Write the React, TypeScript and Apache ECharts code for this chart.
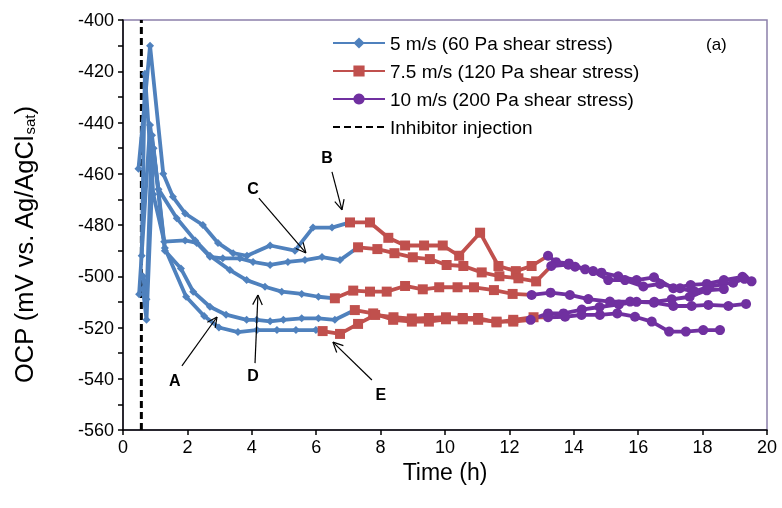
import { useEffect, useRef } from 'react';
import * as echarts from 'echarts';

const FONT = "'Liberation Sans', Arial, Helvetica, sans-serif";

type Pt = [number, number];

const seriesNames = [
  '5 m/s (60 Pa shear stress)',
  '7.5 m/s (120 Pa shear stress)',
  '10 m/s (200 Pa shear stress)',
];
const injectionName = 'Inhibitor injection';
const injectionTime = 0.57;

const xTicks = { min: 0, max: 20, interval: 2 };
const yTicks = { min: -560, max: -400, interval: 20 };

// Experiment 1 (arrow B)
const blue1: Pt[] = [[0.48, -458], [0.84, -410], [1.25, -460], [1.55, -469], [1.93, -475.5], [2.48, -480], [2.95, -487], [3.42, -491], [3.85, -492], [4.57, -488], [5.34, -490], [5.9, -481], [6.49, -481]];
const red1: Pt[] = [[7.05, -479], [7.67, -479], [8.24, -485], [8.76, -488], [9.35, -488], [9.93, -488], [10.44, -492], [11.09, -483], [11.66, -496], [12.2, -498], [12.69, -496]];
const purple1: Pt[] = [[13.2, -492], [13.45, -494.5], [13.85, -495], [14.35, -497.3], [14.86, -498.6], [15.38, -500], [15.95, -501.5], [16.49, -500.4], [17.09, -504.7], [17.63, -503.4], [18.13, -503], [18.66, -501.5], [19.24, -500.2], [19.52, -502]];

// Experiment 2 (arrow C)
const blue2: Pt[] = [[0.58, -492], [0.68, -421], [0.94, -468], [1.28, -486.5], [1.93, -486], [2.29, -487], [2.7, -492.4], [3.1, -493], [3.63, -493], [4.04, -494.4], [4.57, -495.6], [5.12, -494.4], [5.65, -493.7], [6.18, -492.5], [6.74, -493.7]];
const red2: Pt[] = [[7.3, -488.7], [7.9, -489.4], [8.43, -491], [9.0, -492.6], [9.53, -493.3], [10.05, -495.6], [10.57, -496], [11.14, -498.5], [11.69, -500], [12.28, -500.8], [12.83, -502]];
const purple2: Pt[] = [[13.3, -496], [13.83, -495.5], [14.04, -496.3], [14.6, -498], [15.07, -501.5], [15.59, -501.5], [16.16, -504], [16.68, -503], [17.3, -504.7], [17.75, -506], [18.2, -504], [18.95, -502.5], [19.3, -501]];

// Experiment 3 (arrow D)
const blue3: Pt[] = [[0.5, -507], [0.84, -441], [1.1, -466], [1.67, -477.4], [2.24, -486], [2.7, -492], [3.32, -497.6], [3.84, -501.5], [4.41, -504.1], [4.93, -506], [5.55, -506.9], [6.07, -508]];
const red3: Pt[] = [[6.58, -508.6], [7.15, -505.6], [7.67, -506], [8.19, -506], [8.76, -503.8], [9.31, -505.1], [9.82, -504.3], [10.39, -504.3], [10.9, -504.3], [11.52, -505.4], [12.1, -506.9]];
const purple3: Pt[] = [[12.69, -507.3], [13.28, -506.4], [13.88, -507.3], [14.45, -508.9], [15.12, -509.9], [15.75, -509.9], [16.49, -510.3], [17.09, -511.6], [17.66, -511.6], [18.18, -511.2], [18.8, -511.6], [19.35, -510.8]];

// Experiment 4 (arrow A)
const blue4: Pt[] = [[0.62, -500], [0.73, -509], [0.9, -445], [1.3, -490], [1.8, -497], [2.18, -506], [2.7, -511.9], [3.2, -515], [3.84, -517], [4.15, -517], [4.57, -517.6], [4.98, -517], [5.55, -516.4], [6.07, -516.4], [6.58, -517]];
const red4: Pt[] = [[7.2, -513.2], [7.77, -514.5], [8.39, -517], [8.97, -517.7], [9.5, -517.7], [10.03, -516.8], [10.55, -516.8], [11.03, -517], [11.6, -517.7], [12.12, -517.7]];
const purple4: Pt[] = [[12.66, -517], [13.2, -514.5], [13.68, -514.5], [14.25, -513], [14.8, -512], [15.4, -511], [15.95, -510], [16.5, -510], [17.04, -509], [17.6, -508], [18.13, -505.5], [18.66, -505]];

// Experiment 5 (arrow E)
const blue5: Pt[] = [[0.62, -505], [0.73, -517], [0.95, -450], [1.3, -489], [1.96, -508], [2.52, -515.5], [2.98, -520], [3.57, -521.8], [4.16, -521], [4.78, -521], [5.37, -521], [5.99, -521]];
const red5: Pt[] = [[6.2, -521.4], [6.74, -522.5], [7.3, -518.6], [7.83, -515.1], [8.4, -516], [8.97, -516.5], [9.5, -516.3], [10.03, -516], [10.55, -516.3], [11.03, -516.3], [11.6, -518], [12.12, -517], [12.75, -516]];
const purple5: Pt[] = [[13.2, -516], [13.73, -515.8], [14.24, -515.1], [14.81, -515.1], [15.35, -514.5], [15.9, -515.8], [16.42, -517.7], [16.96, -521.6], [17.48, -521.6], [18.02, -521], [18.54, -521]];

const blueRuns = [blue1, blue2, blue3, blue4, blue5];
const redRuns = [red1, red2, red3, red4, red5];
const purpleRuns = [purple1, purple2, purple3, purple4, purple5];

// Annotations in data coordinates: label position, arrow tail, arrow tip
const annotations: { label: string; at: Pt; from: Pt; to: Pt }[] = [
  { label: 'A', at: [1.61, -540.5], from: [1.83, -535], to: [2.92, -515.9] },
  { label: 'B', at: [6.34, -453.5], from: [6.49, -459.3], to: [6.8, -474.1] },
  { label: 'C', at: [4.04, -465.6], from: [4.22, -469.5], to: [5.68, -490.9] },
  { label: 'D', at: [4.04, -538.9], from: [4.1, -533.9], to: [4.19, -507.3] },
  { label: 'E', at: [8.01, -546.3], from: [7.73, -540.5], to: [6.52, -525.7] },
];

const COLORS = ['#4F81BD', '#C0504D', '#7030A0'];
const SYMBOLS = ['diamond', 'rect', 'circle'];
const SYMBOL_SIZES = [8, 10, 10];

function buildSeries() {
  const stages = [blueRuns, redRuns, purpleRuns];
  const out: any[] = [];
  stages.forEach((runs, s) => {
    runs.forEach((run, r) => {
      const data: any[] = run.map((p) => ({ value: p }));
      if (s < 2) data.push({ value: stages[s + 1][r][0], symbol: 'none' });
      out.push({
        type: 'line',
        name: seriesNames[s],
        data,
        color: COLORS[s],
        symbol: SYMBOLS[s],
        symbolSize: SYMBOL_SIZES[s],
        lineStyle: { width: 3.8, color: COLORS[s] },
        itemStyle: { color: COLORS[s] },
        emphasis: { disabled: true },
        z: 3,
      });
    });
  });
  out.push({
    type: 'line',
    name: injectionName,
    data: [[injectionTime, yTicks.min], [injectionTime, yTicks.max]],
    symbol: 'none',
    color: '#000',
    lineStyle: { width: 3, color: '#000', type: [7, 4] },
    emphasis: { disabled: true },
    z: 2,
  });
  return out;
}

export default function App() {
  const ref = useRef<HTMLDivElement>(null);
  useEffect(() => {
    if (!ref.current) return;
    const chart = echarts.init(ref.current, undefined, { renderer: 'svg' });
    const axisLine = { show: true, onZero: false, lineStyle: { color: '#000', width: 1.5 } };
    const tick = { show: true, inside: false, length: 5, lineStyle: { color: '#000', width: 1.5 } };
    chart.setOption({
      animation: false,
      grid: { left: 123, right: 15, top: 20, bottom: 78, show: true, borderColor: '#8c80ab', borderWidth: 1.5, backgroundColor: 'transparent' },
      legend: {
        orient: 'vertical',
        left: 327,
        top: 28,
        itemWidth: 52,
        itemHeight: 14,
        itemGap: 8,
        selectedMode: false,
        textStyle: { fontSize: 19, fontFamily: FONT, color: '#000', lineHeight: 20 },
        data: [
          { name: seriesNames[0] },
          { name: seriesNames[1] },
          { name: seriesNames[2] },
          { name: injectionName, itemStyle: { opacity: 0 } },
        ],
      },
      xAxis: {
        type: 'value',
        min: xTicks.min,
        max: xTicks.max,
        interval: xTicks.interval,
        name: 'Time (h)',
        nameLocation: 'middle',
        nameGap: 21,
        nameTextStyle: { fontSize: 23, fontFamily: FONT, color: '#000' },
        axisLine,
        axisTick: tick,
        axisLabel: { fontSize: 18, fontFamily: FONT, color: '#000', margin: 8 },
        splitLine: { show: false },
      },
      yAxis: {
        type: 'value',
        min: yTicks.min,
        max: yTicks.max,
        interval: yTicks.interval,
        name: '{a|OCP (mV vs. Ag/AgCl}{b|sat}{a|)}',
        nameLocation: 'middle',
        nameRotate: 90,
        nameGap: 86,
        nameTextStyle: {
          padding: [0, 40, 0, 0],
          rich: {
            a: { fontSize: 25.5, fontFamily: FONT, color: '#000', verticalAlign: 'bottom', lineHeight: 28 },
            b: { fontSize: 15, fontFamily: FONT, color: '#000', verticalAlign: 'bottom', lineHeight: 13 },
          },
        },
        axisLine,
        axisTick: tick,
        minorTick: { show: true, splitNumber: 2, length: 5, lineStyle: { color: '#000', width: 1.5 } },
        axisLabel: { fontSize: 18, fontFamily: FONT, color: '#000', margin: 9 },
        splitLine: { show: false },
      },
      series: buildSeries(),
    });

    const px = (p: Pt) => chart.convertToPixel({ gridIndex: 0 }, p) as unknown as number[];
    const elems: any[] = [];
    annotations.forEach((a) => {
      const [lx, ly] = px(a.at);
      const [x0, y0] = px(a.from);
      const [x1, y1] = px(a.to);
      elems.push({
        type: 'text',
        x: lx,
        y: ly,
        style: { text: a.label, font: `bold 16px ${FONT}`, fill: '#000', align: 'center', verticalAlign: 'middle', textAlign: 'center', textVerticalAlign: 'middle' },
        z: 10,
      });
      elems.push({ type: 'line', shape: { x1: x0, y1: y0, x2: x1, y2: y1 }, style: { stroke: '#000', lineWidth: 1.2 }, z: 10 });
      const ang = Math.atan2(y1 - y0, x1 - x0);
      [-1, 1].forEach((d) => {
        const a2 = ang + Math.PI + d * 0.45;
        elems.push({
          type: 'line',
          shape: { x1, y1, x2: x1 + 11 * Math.cos(a2), y2: y1 + 11 * Math.sin(a2) },
          style: { stroke: '#000', lineWidth: 1.2 },
          z: 10,
        });
      });
    });
    elems.push({
      type: 'text',
      left: 706,
      top: 36,
      style: { text: '(a)', font: `17px ${FONT}`, fill: '#000' },
      z: 10,
    });
    chart.setOption({ graphic: elems });

    return () => chart.dispose();
  }, []);
  return <div ref={ref} style={{ position: 'fixed', left: 0, top: 0, width: 782, height: 508 }} />;
}
